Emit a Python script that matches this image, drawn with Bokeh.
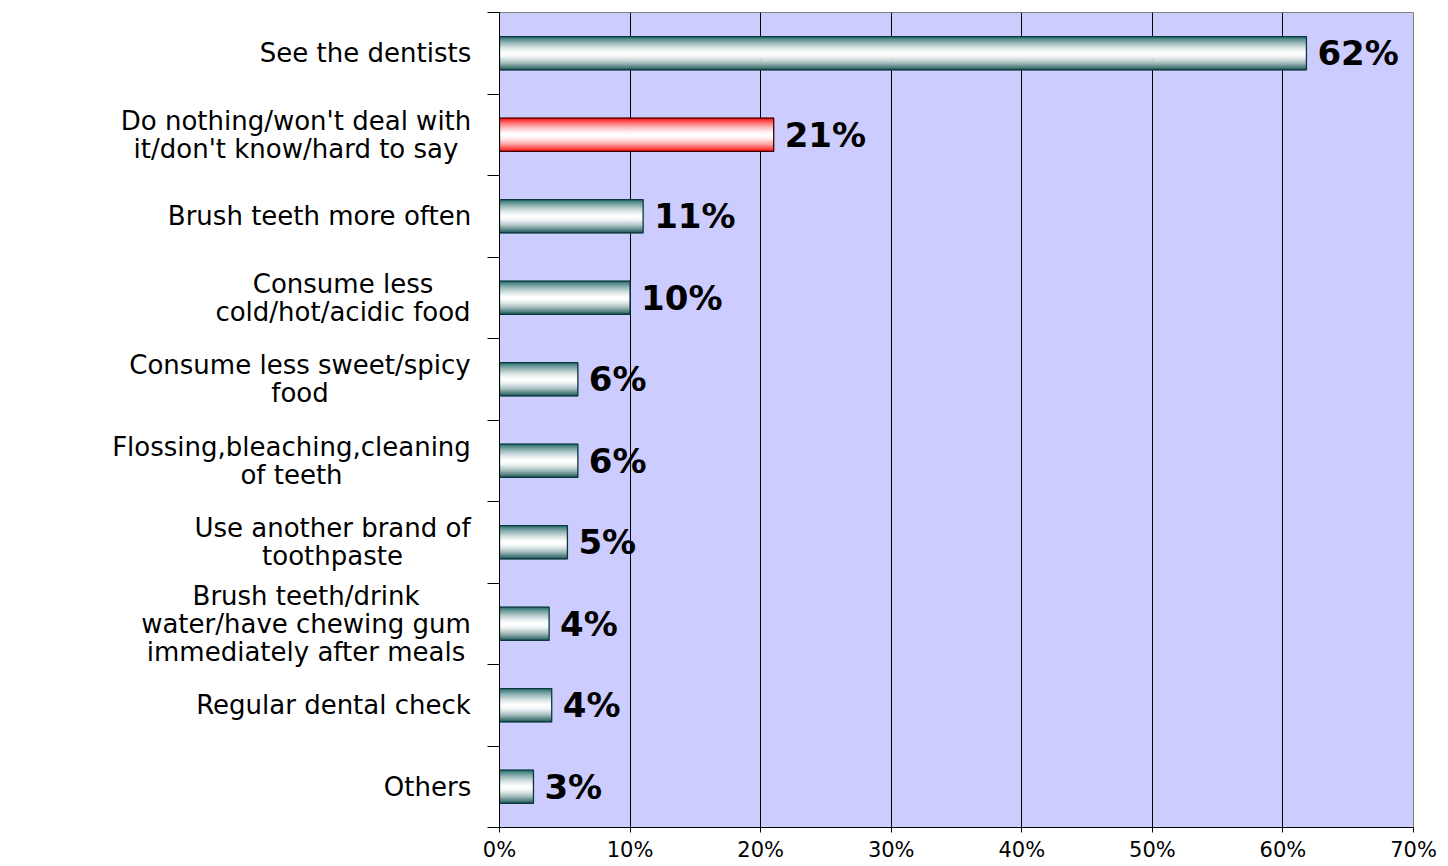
from bokeh.plotting import figure
from bokeh.layouts import row
from bokeh.models import ColumnDataSource, Range1d, FixedTicker, PrintfTickFormatter
from bokeh.transform import dodge
from bokeh.core.properties import value
from bokeh.embed import file_html
from bokeh.resources import INLINE

# ---------------- data ----------------
categories = [
    "See the dentists",
    "Do nothing/won't deal with\nit/don't know/hard to say",
    "Brush teeth more often",
    "Consume less\ncold/hot/acidic food",
    "Consume less sweet/spicy\nfood",
    "Flossing,bleaching,cleaning\nof teeth",
    "Use another brand of\ntoothpaste",
    "Brush teeth/drink\nwater/have chewing gum\nimmediately after meals",
    "Regular dental check",
    "Others",
]
values = [61.8, 21.0, 11.0, 10.0, 6.0, 6.0, 5.2, 3.8, 4.0, 2.6]
value_labels = ["62%", "21%", "11%", "10%", "6%", "6%", "5%", "4%", "4%", "3%"]
highlight = [False, True, False, False, False, False, False, False, False, False]
x_ticks = [0, 10, 20, 30, 40, 50, 60, 70]

# ---------------- layout / style constants ----------------
FONT = "DejaVu Sans"
N_BANDS = 32
BAR_H = 0.41
TOTAL_W, TOTAL_H = 1440, 864
LEFT_W = 479             # width of the label panel
LABEL_RIGHT = 470        # right edge of the widest label line (px)
# approximate pixel width of the widest line of each label at 26px DejaVu Sans
LABEL_WIDEST = [210, 349, 302, 255, 341, 358, 276, 329, 274, 86]
TOP, BOTTOM = 12, 35


def hex2rgb(h):
    h = h.lstrip("#")
    return tuple(int(h[i:i + 2], 16) for i in (0, 2, 4))


def mix(c1, c2, t):
    a, b = hex2rgb(c1), hex2rgb(c2)
    return "#%02x%02x%02x" % tuple(int(round(a[i] + (b[i] - a[i]) * t)) for i in range(3))


def band_colors(edge_top, edge_bottom):
    cols = []
    for k in range(N_BANDS):
        u = (k + 0.5) / N_BANDS           # 0 = bottom, 1 = top
        edge = mix(edge_bottom, edge_top, u)
        f = 1 - abs(2 * u - 1) ** 1.6
        cols.append(mix(edge, "#ffffff", f))
    return cols


teal = band_colors("#2c7070", "#0c4a4a")
red = band_colors("#ff1010", "#ff0000")

n = len(categories)
ypos = list(range(n - 1, -1, -1))
data = dict(y=ypos, value=values, label=value_labels, cat=categories,
            lx=[LABEL_RIGHT - w / 2 for w in LABEL_WIDEST],
            line=["#3a0000" if h else "#0a3838" for h in highlight])
for k in range(N_BANDS):
    data[f"c{k}"] = [red[k] if h else teal[k] for h in highlight]
source = ColumnDataSource(data)

y_range = Range1d(-0.5, n - 0.5)

# ---------------- label panel ----------------
lp = figure(width=LEFT_W, height=TOTAL_H, output_backend="svg", toolbar_location=None,
            x_range=Range1d(0, LEFT_W), y_range=y_range,
            x_axis_location=None, y_axis_location=None,
            min_border_left=0, min_border_right=0, min_border_top=TOP, min_border_bottom=BOTTOM)
lp.outline_line_color = None
lp.grid.grid_line_color = None
lp.background_fill_color = None
lp.border_fill_color = None
lp.text(x="lx", y="y", text="cat", text_align="center", text_baseline="middle",
        text_font=value(FONT), text_font_size="26px", text_color="black",
        text_line_height=0.93, source=source)

# ---------------- chart ----------------
p = figure(width=TOTAL_W - LEFT_W, height=TOTAL_H, output_backend="svg", toolbar_location=None,
           x_range=Range1d(0, 70), y_range=y_range,
           min_border_left=20, min_border_right=27, min_border_top=TOP, min_border_bottom=BOTTOM)
p.background_fill_color = "#ccccff"
p.outline_line_color = "#808080"
p.outline_line_width = 1

band_h = BAR_H / N_BANDS
for k in range(N_BANDS):
    off = -BAR_H / 2 + (k + 0.5) * band_h
    p.hbar(y=dodge("y", off, range=p.y_range), height=band_h * 1.6, left=0, right="value",
           fill_color=f"c{k}", line_color=None, source=source)
p.hbar(y="y", height=BAR_H, left=0, right="value", fill_color=None,
       line_color="line", line_width=1.3, source=source)

p.text(x="value", y="y", text="label", x_offset=11, text_baseline="middle",
       text_align="left", text_font=value(FONT), text_font_style="bold",
       text_font_size="34px", text_color="black", source=source)

# x axis
p.xaxis.ticker = FixedTicker(ticks=x_ticks)
p.xaxis.formatter = PrintfTickFormatter(format="%d%%")
p.xaxis.major_label_text_font = FONT
p.xaxis.major_label_text_font_size = "21px"
p.xaxis.major_label_text_color = "black"
p.xaxis.major_tick_out = 5
p.xaxis.major_tick_in = 0
p.xaxis.minor_tick_out = 0
p.xaxis.major_label_standoff = 5
p.xaxis.axis_line_color = "black"
p.xaxis.major_tick_line_color = "black"

# y axis: only boundary ticks, no labels (labels drawn in the left panel)
p.yaxis.ticker = FixedTicker(ticks=[], minor_ticks=[i - 0.5 for i in range(n + 1)])
p.yaxis.major_tick_out = 0
p.yaxis.major_tick_in = 0
p.yaxis.minor_tick_out = 12
p.yaxis.minor_tick_in = 0
p.yaxis.minor_tick_line_color = "black"
p.yaxis.axis_line_color = "black"
p.yaxis.major_label_standoff = 0

p.xgrid.grid_line_color = "black"
p.xgrid.grid_line_width = 1
p.ygrid.grid_line_color = None

layout = row(lp, p)
open("out.html", "w").write(file_html(layout, INLINE))
